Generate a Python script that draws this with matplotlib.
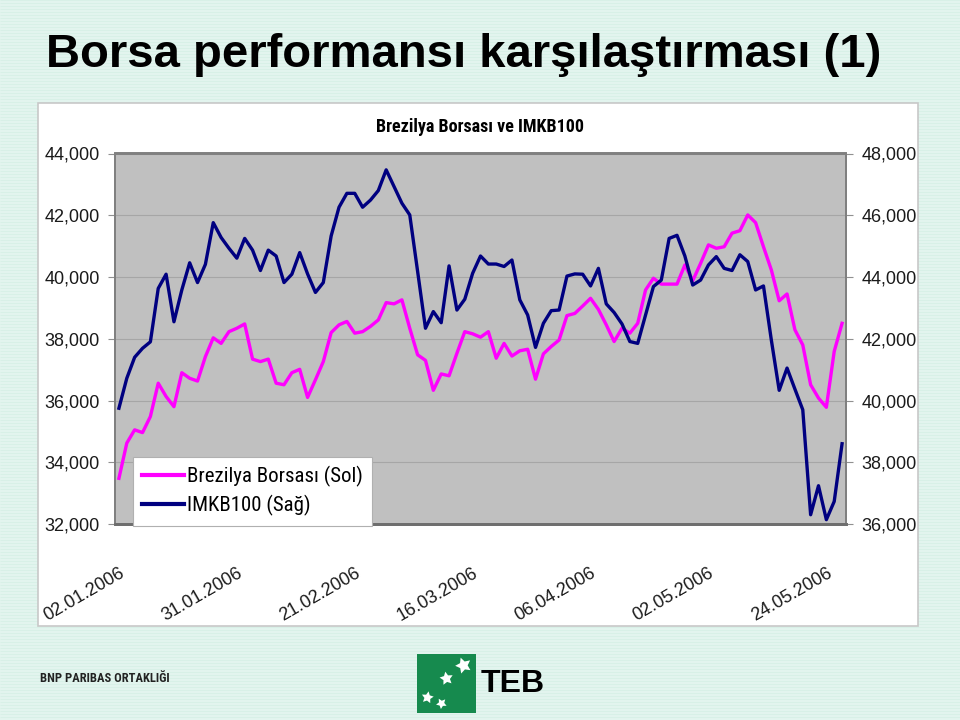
import matplotlib
matplotlib.use('Agg')
import matplotlib.pyplot as plt
import matplotlib.patches as patches
from matplotlib import font_manager
from matplotlib.ticker import FuncFormatter

# fonts: use a narrow face if the system has one
installed = {f.name for f in font_manager.fontManager.ttflist}
narrow = 'Liberation Sans'
narrow_stretch = 'normal'
for cand in ['Liberation Sans Narrow', 'Arial Narrow', 'Roboto Condensed', 'Open Sans Condensed']:
    if cand in installed:
        narrow = cand
        break
else:
    if any(f.name == 'DejaVu Sans' and f.stretch == 'condensed'
           for f in font_manager.fontManager.ttflist):
        narrow, narrow_stretch = 'DejaVu Sans', 'condensed'
has_narrow = narrow != 'Liberation Sans'
plt.rcParams['font.family'] = ['Liberation Sans', 'DejaVu Sans']

# data
date_labels = ['02.01.2006', '31.01.2006', '21.02.2006', '16.03.2006',
               '06.04.2006', '02.05.2006', '24.05.2006']
label_step = 15

brezilya = [33480, 34620, 35050, 34960, 35480, 36560, 36130, 35800, 36900, 36720,
            36630, 37420, 38030, 37850, 38230, 38340, 38480, 37340, 37260, 37340,
            36560, 36510, 36900, 37010, 36100, 36670, 37260, 38200, 38450, 38560,
            38180, 38230, 38400, 38610, 39170, 39130, 39260, 38340, 37480, 37300,
            36330, 36860, 36800, 37530, 38230, 38160, 38050, 38230, 37370, 37850,
            37440, 37610, 37660, 36690, 37510, 37750, 37960, 38750, 38820, 39060,
            39310, 38950, 38450, 37910, 38340, 38180, 38500, 39580, 39960, 39770,
            39770, 39770, 40390, 39880, 40440, 41040, 40930, 40980, 41420, 41500,
            42010, 41760, 40980, 40230, 39230, 39450, 38290, 37800, 36510, 36080,
            35780, 37590, 38500]

imkb100 = [39750, 40720, 41400, 41690, 41900, 43630, 44090, 42550, 43580, 44460,
           43820, 44410, 45760, 45280, 44930, 44610, 45250, 44870, 44210, 44870,
           44680, 43820, 44090, 44790, 44100, 43500, 43820, 45330, 46260, 46710,
           46710, 46260, 46490, 46800, 47470, 46930, 46390, 46010, 44180, 42340,
           42880, 42520, 44360, 42930, 43280, 44120, 44680, 44420, 44420, 44340,
           44550, 43260, 42770, 41720, 42500, 42910, 42930, 44030, 44100, 44090,
           43710, 44280, 43130, 42850, 42480, 41910, 41850, 42770, 43690, 43900,
           45250, 45350, 44680, 43740, 43900, 44390, 44660, 44280, 44210, 44720,
           44500, 43580, 43710, 41960, 40330, 41050, 40370, 39700, 36300, 37240,
           36140, 36730, 38600]

# colours
bg_mint = '#E3F5EF'
stripe = '#D8F0E7'
plot_gray = '#C0C0C0'
pink = '#FF00FF'
navy = '#000080'
teb_green = '#168A4E'

W, H = 960, 720
fig = plt.figure(figsize=(W / 100, H / 100), dpi=100)
fig.patch.set_facecolor(bg_mint)

# striped slide background (pixel coordinates)
bg = fig.add_axes([0, 0, 1, 1], zorder=-10)
bg.set_xlim(0, W)
bg.set_ylim(H, 0)
bg.axis('off')
bg.hlines(range(0, H, 3), 0, W, colors=stripe, linewidth=0.8, zorder=1)

# white chart panel
bg.add_patch(patches.Rectangle((38, 103), 880, 523, facecolor='white',
                               edgecolor='#C8C8C8', linewidth=1.2, zorder=3))

# slide title
fig.text(46 / W, 1 - 67 / H, 'Borsa performansı karşılaştırması (1)',
         ha='left', va='baseline', fontsize=34, fontweight='bold', color='black')

# main plot
x = list(range(len(brezilya)))
ax = fig.add_axes([115 / W, 1 - 524 / H, 731 / W, 370.5 / H])
ax.set_facecolor(plot_gray)
ax.plot(x, brezilya, color=pink, linewidth=2.4, label='Brezilya Borsası (Sol)')
ax.set_xlim(-0.5, len(brezilya) - 0.5)
ax.set_ylim(32000, 44000)
ax.set_yticks(range(32000, 44001, 2000))
ax.yaxis.set_major_formatter(FuncFormatter(lambda v, p: f'{int(v):,}'))
ax.grid(axis='y', color='#A6A6A6', linewidth=0.8)
ax.set_axisbelow(True)

ax2 = ax.twinx()
ax2.plot(x, imkb100, color=navy, linewidth=2.4, label='IMKB100 (Sağ)')
ax2.set_ylim(36000, 48000)
ax2.set_yticks(range(36000, 48001, 2000))
ax2.yaxis.set_major_formatter(FuncFormatter(lambda v, p: f'{int(v):,}'))

for a in (ax, ax2):
    for side in ('top', 'left', 'right'):
        a.spines[side].set_color('#808080')
        a.spines[side].set_linewidth(1.4)
    a.spines['bottom'].set_color('#6E6E6E')
    a.spines['bottom'].set_linewidth(2)
    a.tick_params(axis='y', length=5, width=0.8, color='#909090',
                  labelsize=13, labelcolor='#1A1A1A', pad=6)

ax.set_xticks(range(0, len(brezilya), label_step))
ax.set_xticklabels(date_labels, rotation=30, ha='right', va='top',
                   rotation_mode='anchor', fontsize=13, color='#1A1A1A')
ax.tick_params(axis='x', length=0, pad=29)

# chart title
ax.text(0.5, 1 + 27 / 370.5, 'Brezilya Borsası ve IMKB100', transform=ax.transAxes,
        ha='center', va='center', fontsize=13 if has_narrow else 11.5,
        fontweight='bold', family=[narrow, 'Liberation Sans'], fontstretch=narrow_stretch)

# legend
h1, l1 = ax.get_legend_handles_labels()
h2, l2 = ax2.get_legend_handles_labels()
leg = ax2.legend(h1 + h2, l1 + l2, loc='lower left', bbox_to_anchor=(18 / 731, -0.005),
                 frameon=True, fancybox=False, framealpha=1, edgecolor='#B0B0B0',
                 prop={'family': [narrow, 'Liberation Sans'], 'stretch': narrow_stretch,
                       'size': 15 if has_narrow else 13},
                 handlelength=2.0, handletextpad=0.15,
                 borderpad=0.45, labelspacing=0.4, borderaxespad=0)
leg.get_frame().set_linewidth(0.8)
for line in leg.get_lines():
    line.set_linewidth(3)

# footer: BNP text and TEB logo
fig.text(40 / W, 1 - 678 / H, 'BNP PARIBAS ORTAKLIĞI', ha='left', va='center',
         fontsize=9 if has_narrow else 7.8, fontweight='bold', color='#222222',
         family=[narrow, 'Liberation Sans'], fontstretch=narrow_stretch)
bg.add_patch(patches.Rectangle((417, 654), 59, 59, facecolor=teb_green,
                               edgecolor='none', zorder=3))
for (sx, sy, s, ang) in [(463, 665, 12, 20), (446, 678, 10, 10),
                         (427, 697, 9, -10), (441, 703, 8, 30)]:
    bg.plot(sx, sy, marker=(5, 1, ang), markersize=s, color='white',
            markeredgewidth=0, zorder=4)
bg.text(481, 684, 'TEB', ha='left', va='center', fontsize=23, fontweight='bold',
        color='black', zorder=4)

fig.savefig('out.png', dpi=100, facecolor=bg_mint)
